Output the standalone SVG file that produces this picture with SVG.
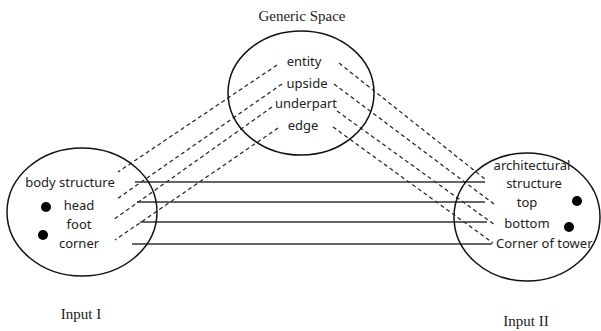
<svg xmlns="http://www.w3.org/2000/svg" width="601" height="331" viewBox="0 0 601 331">
<style>
.ell{fill:none;stroke:#111;stroke-width:1.5}
.lbl{font-family:"Noto Sans","DejaVu Sans",sans-serif;font-size:13px;fill:#222}
.ttl{font-family:"Liberation Serif","Times New Roman",serif;font-size:15px;fill:#222;text-anchor:middle}
.dash{stroke:#222;stroke-width:1.2;stroke-dasharray:4 3;fill:none}
.solid{stroke:#333;stroke-width:1.4;fill:none}
.dot{fill:#000}
</style>
<rect width="601" height="331" fill="#fff"/>
<g id="connectors">
<line class="dash" x1="277" y1="65" x2="118" y2="172"/>
<line class="dash" x1="282" y1="84" x2="117" y2="199"/>
<line class="dash" x1="272" y1="107" x2="113" y2="220"/>
<line class="dash" x1="278" y1="128" x2="115" y2="240"/>
<line class="dash" x1="339" y1="63" x2="485" y2="179"/>
<line class="dash" x1="334" y1="84" x2="494" y2="204"/>
<line class="dash" x1="337" y1="111" x2="495" y2="225"/>
<line class="dash" x1="333" y1="127" x2="493" y2="243"/>
<line class="solid" x1="135" y1="182" x2="485" y2="182"/>
<line class="solid" x1="137" y1="202" x2="485" y2="202"/>
<line class="solid" x1="140" y1="222" x2="487" y2="222"/>
<line class="solid" x1="132" y1="244" x2="492" y2="244"/>
</g>
<g id="generic">
<text class="ttl" x="302" y="21">Generic Space</text>
<ellipse class="ell" cx="301" cy="93" rx="73" ry="62"/>
<text class="lbl" x="304" y="66" text-anchor="middle">entity</text>
<text class="lbl" x="307" y="88" text-anchor="middle">upside</text>
<text class="lbl" x="306" y="108" text-anchor="middle">underpart</text>
<text class="lbl" x="303" y="130" text-anchor="middle">edge</text>
</g>
<g id="input1">
<ellipse class="ell" cx="82" cy="212" rx="75" ry="64"/>
<text class="lbl" x="70" y="187" text-anchor="middle">body structure</text>
<circle class="dot" cx="46" cy="207" r="5"/>
<text class="lbl" x="79" y="210" text-anchor="middle">head</text>
<text class="lbl" x="79" y="229" text-anchor="middle">foot</text>
<circle class="dot" cx="43" cy="235" r="5"/>
<text class="lbl" x="79" y="248" text-anchor="middle">corner</text>
<text class="ttl" x="81" y="319">Input I</text>
</g>
<g id="input2">
<ellipse class="ell" cx="527" cy="217" rx="73" ry="64"/>
<text class="lbl" x="532" y="170" text-anchor="middle">architectural</text>
<text class="lbl" x="534" y="188" text-anchor="middle">structure</text>
<text class="lbl" x="527" y="207" text-anchor="middle">top</text>
<circle class="dot" cx="577" cy="201" r="5"/>
<text class="lbl" x="527" y="228" text-anchor="middle">bottom</text>
<circle class="dot" cx="569" cy="227" r="5"/>
<text class="lbl" x="496" y="248">Corner of tower</text>
<text class="ttl" x="526" y="326">Input II</text>
</g>
</svg>
